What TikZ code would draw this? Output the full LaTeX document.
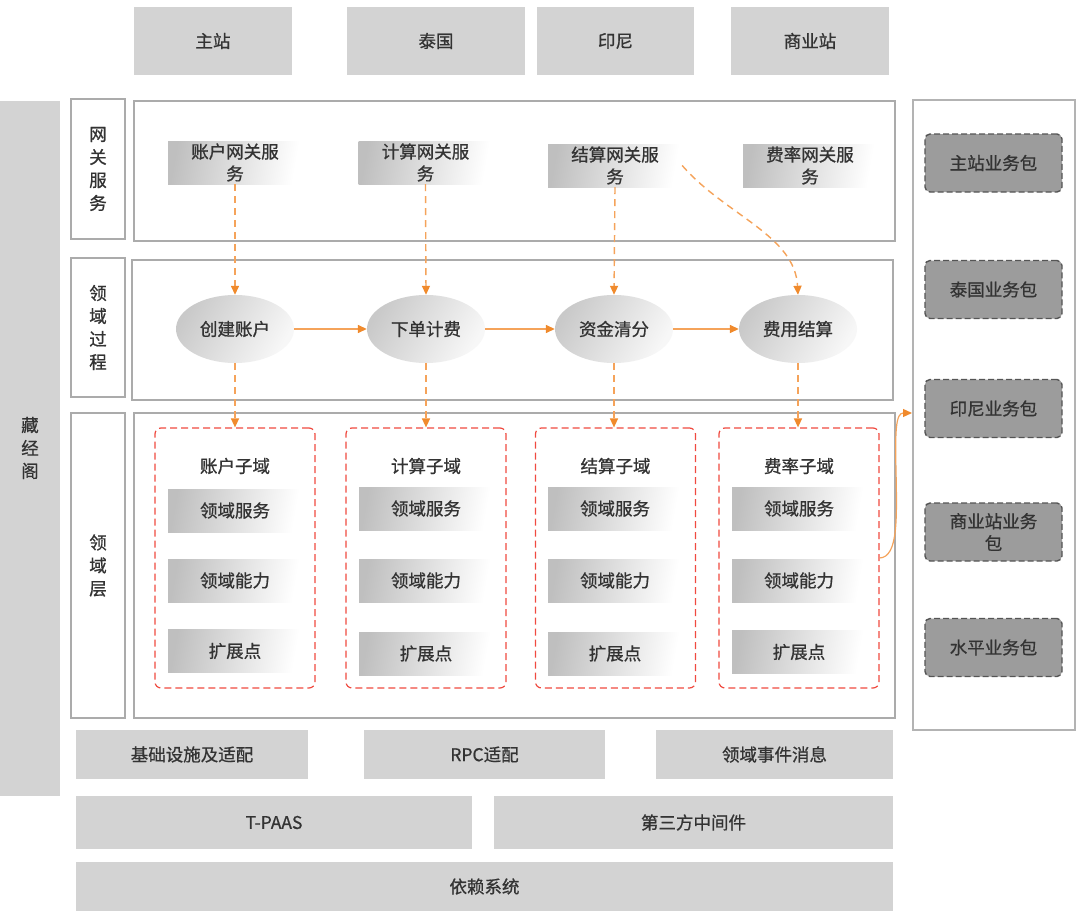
\documentclass[tikz,border=0pt]{standalone}
\usepackage{fontspec}
\setmainfont{Noto Sans CJK SC}[FakeBold=0.8]
\usetikzlibrary{arrows.meta,shapes.geometric}
\definecolor{boxgray}{HTML}{D3D3D3}
\definecolor{linegray}{HTML}{ABABAB}
\definecolor{txt}{HTML}{333333}
\definecolor{orangeC}{HTML}{F5A35A}
\definecolor{orangeT}{HTML}{F08A2C}
\definecolor{pkgfill}{HTML}{9C9C9C}
\definecolor{pkgline}{HTML}{555555}
\definecolor{redC}{HTML}{F04A40}
\begin{document}
\begin{tikzpicture}[x=1pt,y=-1pt,
  every node/.style={text=txt, inner sep=0pt},
  gbox/.style={fill=boxgray, draw=none, font=\fontsize{17.5}{20}\selectfont},
  frame/.style={draw=linegray, line width=1.6pt, fill=white},
  lab/.style={frame, font=\fontsize{17.5}{23}\selectfont, align=center},
  grad/.style={draw=none, left color=gray!50, right color=white, shading angle=80,
     minimum width=134pt, minimum height=43pt, font=\fontsize{17.5}{22}\selectfont, align=center},
  proc/.style={ellipse, draw=none, left color=gray!42, right color=gray!6, shading angle=60,
     minimum width=118pt, minimum height=68pt, font=\fontsize{17.5}{20}\selectfont},
  sub/.style={draw=redC, line width=1.2pt, dash pattern=on 7pt off 4pt, rounded corners=6pt,
     minimum width=160pt, minimum height=260pt},
  pkg/.style={fill=pkgfill, draw=pkgline, line width=1.4pt, dash pattern=on 6pt off 3pt,
     rounded corners=5pt, minimum width=137pt, minimum height=58pt,
     font=\fontsize{17.5}{22}\selectfont, align=center},
  flowd/.style={draw=orangeC, line width=1.4pt, dash pattern=on 7pt off 5pt,
     -{Triangle[length=9pt,width=8pt,color=orangeT]}},
  flows/.style={draw=orangeC, line width=1.4pt, -{Triangle[length=9pt,width=8pt,color=orangeT]}},
  ttl/.style={font=\fontsize{17.5}{20}\selectfont}
]
\useasboundingbox (0,0) rectangle (1080,918);

% top boxes
\node[gbox, minimum width=158pt, minimum height=68pt] (t1) at (213,41) {主站};
\node[gbox, minimum width=178pt, minimum height=68pt] (t2) at (436,41) {泰国};
\node[gbox, minimum width=157pt, minimum height=68pt] (t3) at (615.5,41) {印尼};
\node[gbox, minimum width=158pt, minimum height=68pt] (t4) at (810,41) {商业站};

% left bar
\node[gbox, minimum width=60pt, minimum height=695pt, align=center, font=\fontsize{17.5}{23}\selectfont] (cjg) at (30,448) {藏\\经\\阁};

% row labels
\node[lab, minimum width=54pt, minimum height=140pt] (l1) at (98,169) {网\\关\\服\\务};
\node[lab, minimum width=54pt, minimum height=139pt] (l2) at (98,327.5) {领\\域\\过\\程};
\node[lab, minimum width=54pt, minimum height=305pt] (l3) at (98,565.5) {领\\域\\层};

% main frames
\node[frame, minimum width=761pt, minimum height=140pt] (f1) at (514.5,171) {};
\node[frame, minimum width=761pt, minimum height=140pt] (f2) at (512.5,330) {};
\node[frame, minimum width=761pt, minimum height=305pt] (f3) at (514.5,565.5) {};

% right panel
\node[frame, draw=linegray!90, line width=1.3pt, minimum width=162pt, minimum height=630pt] (panel) at (994,415) {};

% gateway services
\node[grad] (g1) at (235,162.5) {账户网关服\\务};
\node[grad] (g2) at (425.5,162.5) {计算网关服\\务};
\node[grad] (g3) at (615,165.5) {结算网关服\\务};
\node[grad] (g4) at (810,165.5) {费率网关服\\务};

% processes
\node[proc] (e1) at (235,329) {创建账户};
\node[proc] (e2) at (426,329) {下单计费};
\node[proc] (e3) at (614,329) {资金清分};
\node[proc] (e4) at (798,329) {费用结算};

% subdomains
\node[sub] (r1) at (235,558) {};
\node[sub] (r2) at (426,558) {};
\node[sub] (r3) at (615.5,558) {};
\node[sub] (r4) at (799,558) {};

\node[ttl] (s1) at (235,466) {账户子域};
\node[ttl] (s2) at (426,466) {计算子域};
\node[ttl] (s3) at (615.5,466) {结算子域};
\node[ttl] (s4) at (799,466) {费率子域};

\node[grad] (a1) at (235,510.5) {领域服务};
\node[grad] (a2) at (235,580.5) {领域能力};
\node[grad] (a3) at (235,651) {扩展点};
\node[grad] (b1) at (426,508.5) {领域服务};
\node[grad] (b2) at (426,580.5) {领域能力};
\node[grad] (b3) at (426,653.5) {扩展点};
\node[grad] (c1) at (615,508.5) {领域服务};
\node[grad] (c2) at (615,580.5) {领域能力};
\node[grad] (c3) at (615,653.5) {扩展点};
\node[grad] (d1) at (799,508.5) {领域服务};
\node[grad] (d2) at (799,580.5) {领域能力};
\node[grad] (d3) at (799,652) {扩展点};

% packages
\node[pkg] (p1) at (993.5,163) {主站业务包};
\node[pkg] (p2) at (993.5,289.5) {泰国业务包};
\node[pkg] (p3) at (993.5,408.5) {印尼业务包};
\node[pkg] (p4) at (993.5,532) {商业站业务\\包};
\node[pkg] (p5) at (993.5,647.5) {水平业务包};

% bottom layers
\node[gbox, minimum width=232pt, minimum height=49pt] (i1) at (192,754.5) {基础设施及适配};
\node[gbox, minimum width=241pt, minimum height=49pt] (i2) at (484.5,754.5) {RPC适配};
\node[gbox, minimum width=237pt, minimum height=49pt] (i3) at (774.5,754.5) {领域事件消息};
\node[gbox, minimum width=396pt, minimum height=53pt] (m1) at (274,822.5) {T-PAAS};
\node[gbox, minimum width=399pt, minimum height=53pt] (m2) at (693.5,822.5) {第三方中间件};
\node[gbox, minimum width=817pt, minimum height=49pt] (dep) at (484.5,886.5) {依赖系统};

% arrows gateway -> process
\draw[flowd] (g1.south) -- (e1.north);
\draw[flowd] (g2.south) -- (e2.north);
\draw[flowd] (g3.south) -- (e3.north);
\draw[flowd] (g3.east) .. controls (725,215) and (795,235) .. (e4.north);

% process chain
\draw[flows] (e1.east) -- (e2.west);
\draw[flows] (e2.east) -- (e3.west);
\draw[flows] (e3.east) -- (e4.west);

% process -> subdomain
\draw[flowd] (e1.south) -- (r1.north);
\draw[flowd] (e2.south) -- (r2.north);
\draw[flowd] (e3.south) -- (e3.south |- r3.north);
\draw[flowd] (e4.south) -- (e4.south |- r4.north);

% subdomain -> packages
\coordinate (pin) at (912,413);
\draw[draw=orangeC, line width=1.2pt, -{Triangle[length=9pt,width=8pt,color=orangeT]}]
  (r4.east) .. controls (898,557) and (897,520) .. (896,470)
  .. controls (895,430) and (896,413) .. (pin);
\end{tikzpicture}
\end{document}
